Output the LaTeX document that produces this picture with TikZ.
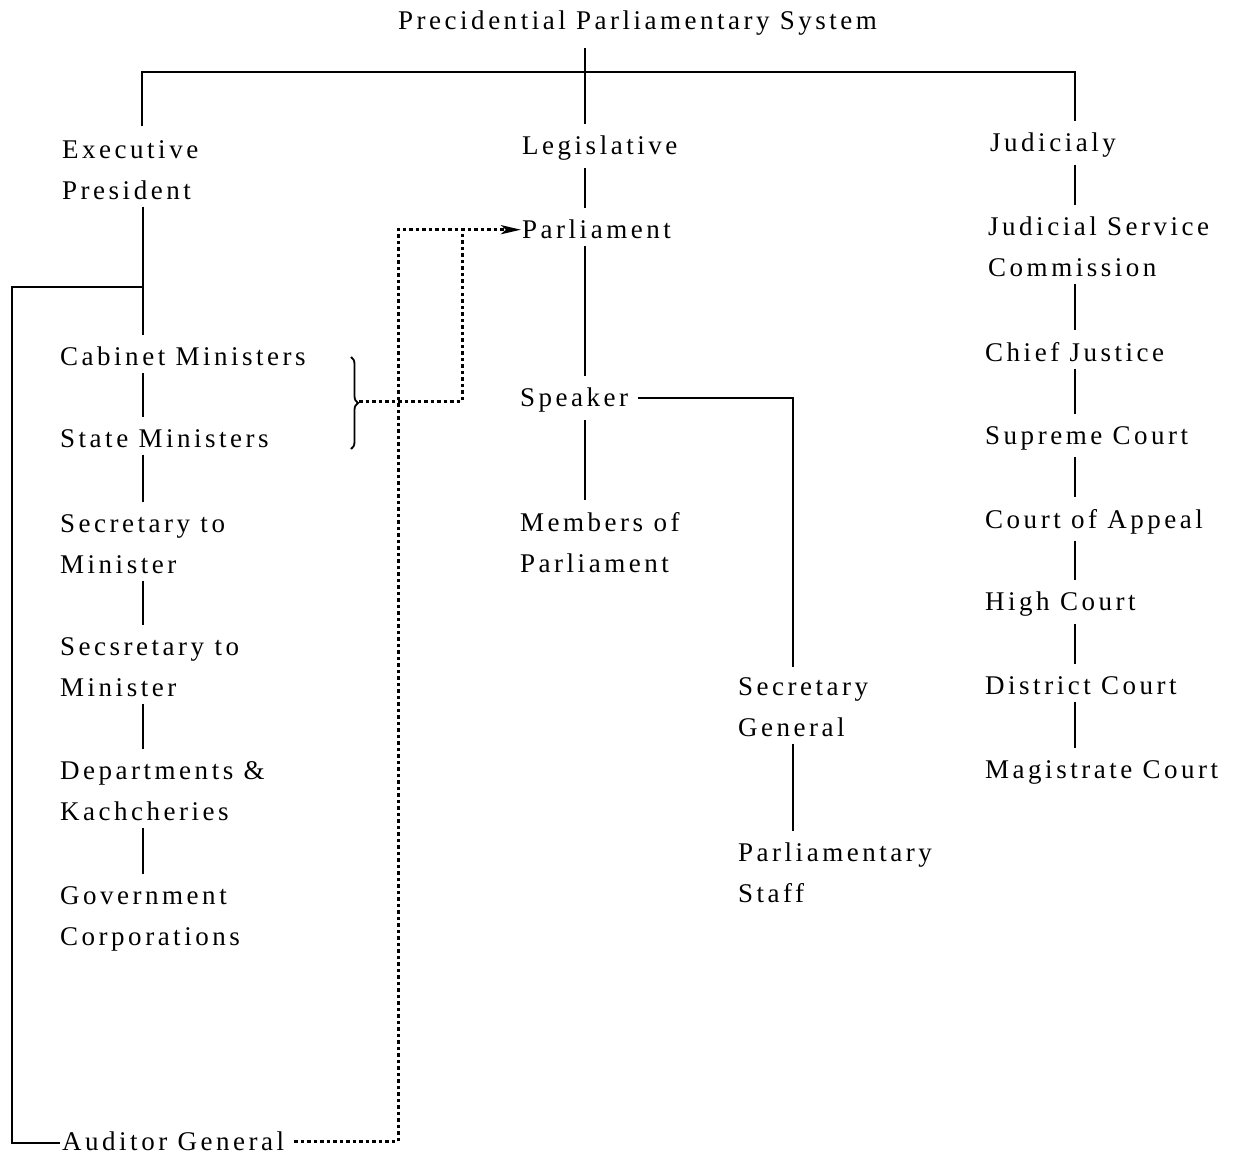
\documentclass[tikz,border=0pt]{standalone}
\usepackage{fontspec}
\setmainfont{Liberation Serif}[LetterSpace=13]
\usetikzlibrary{arrows.meta,decorations.pathreplacing}
\newcommand\lblfont{\fontsize{27}{41}\selectfont}
\tikzset{
  lbl/.style={anchor=north west, inner sep=0pt, align=left, font=\lblfont},
  link/.style={line width=1.2pt, shorten <=7pt, shorten >=12pt},
  plain/.style={line width=1.2pt},
  dotline/.style={line width=3pt, dash pattern=on 3.5pt off 3pt},
}
\begin{document}
\begin{tikzpicture}[x=1pt,y=-1pt]
\useasboundingbox (0,0) rectangle (1247,1158);
% title
\node[lbl] (title) at (398,11) {Precidential Parliamentary System};
% executive column
\node[lbl] (exec) at (62,140) {Executive\\President};
\node[lbl] (cab) at (60,347) {Cabinet Ministers};
\node[lbl] (state) at (60,429) {State Ministers};
\node[lbl] (sec1) at (60,514) {Secretary to\\Minister};
\node[lbl] (sec2) at (60,637) {Secsretary to\\Minister};
\node[lbl] (dept) at (60,761) {Departments \&\\Kachcheries};
\node[lbl] (gov) at (60,886) {Government\\Corporations};
\node[lbl] (aud) at (62,1132) {Auditor General};
% legislative column
\node[lbl] (leg) at (522,136) {Legislative};
\node[lbl] (par) at (522,220) {Parliament};
\node[lbl] (spk) at (520,388) {Speaker};
\node[lbl] (mem) at (520,512) {Members of\\Parliament};
\node[lbl] (sg) at (738,677) {Secretary\\General};
\node[lbl] (ps) at (738,843) {Parliamentary\\Staff};
% judicial column
\node[lbl] (jud) at (990,133) {Judicialy};
\node[lbl] (jsc) at (988,217) {Judicial Service\\Commission};
\node[lbl] (cj) at (985,342) {Chief Justice};
\node[lbl] (sc) at (985,426) {Supreme Court};
\node[lbl] (ca) at (985,509) {Court of Appeal};
\node[lbl] (hc) at (985,592) {High Court};
\node[lbl] (dc) at (985,676) {District Court};
\node[lbl] (mc) at (985,760) {Magistrate Court};
% column coordinates
\coordinate (cE) at (143,0);
\coordinate (cL) at (585,0);
\coordinate (cJ) at (1075,0);
\coordinate (cS) at (793,0);
\coordinate (barL) at (142,72);
\coordinate (barR) at (1075,72);
\coordinate (brE) at (143,287);
\coordinate (outL) at (12,287);
\coordinate (outB) at (12,1143);
\coordinate (spkR) at (793,398);
\coordinate (dX) at (398,0);
\coordinate (bX) at (462,0);
\coordinate (brTop) at (351,357);
\coordinate (brBot) at (351,449);
\coordinate (brTip) at (359,401);
% top bar
\draw[plain, shorten <=14pt, shorten >=12pt] (exec.north -| barL) -- (barL) -- (barR) -- (jud.north -| barR);
\draw[link, shorten <=12pt] (title.south -| cL) -- (leg.north -| cL);
% executive links
\draw[link] (exec.south -| cE) -- (cab.north -| cE);
\draw[plain] (brE) -- (outL) -- (outB) -- ([xshift=-2pt]aud.west |- outB);
\draw[link] (cab.south -| cE) -- (state.north -| cE);
\draw[link] (state.south -| cE) -- (sec1.north -| cE);
\draw[link] (sec1.south -| cE) -- (sec2.north -| cE);
\draw[link] (sec2.south -| cE) -- (dept.north -| cE);
\draw[link] (dept.south -| cE) -- (gov.north -| cE);
% legislative links
\draw[link] (leg.south -| cL) -- (par.north -| cL);
\draw[link] (par.south -| cL) -- (spk.north -| cL);
\draw[link] (spk.south -| cL) -- (mem.north -| cL);
\draw[plain, shorten >=10pt] ([xshift=10pt]spk.east |- spkR) -- (spkR) -- (sg.north -| cS);
\draw[link] (sg.south -| cS) -- (ps.north -| cS);
% judicial links
\draw[link] (jud.south -| cJ) -- (jsc.north -| cJ);
\draw[link] (jsc.south -| cJ) -- (cj.north -| cJ);
\draw[link] (cj.south -| cJ) -- (sc.north -| cJ);
\draw[link] (sc.south -| cJ) -- (ca.north -| cJ);
\draw[link] (ca.south -| cJ) -- (hc.north -| cJ);
\draw[link] (hc.south -| cJ) -- (dc.north -| cJ);
\draw[link] (dc.south -| cJ) -- (mc.north -| cJ);
% brace and dotted links
\draw[line width=1.8pt, decorate, decoration={brace, amplitude=7pt}] (brTop) -- (brBot);
\draw[dotline] (brTip) -- (brTip -| bX) -- (par.west -| bX);
\draw[dotline, -{Stealth[length=20pt,width=9pt,inset=5pt]}] ([xshift=10pt]aud.east) -- (aud.east -| dX) -- (par.west -| dX) -- ([xshift=-1pt]par.west);
\end{tikzpicture}
\end{document}
